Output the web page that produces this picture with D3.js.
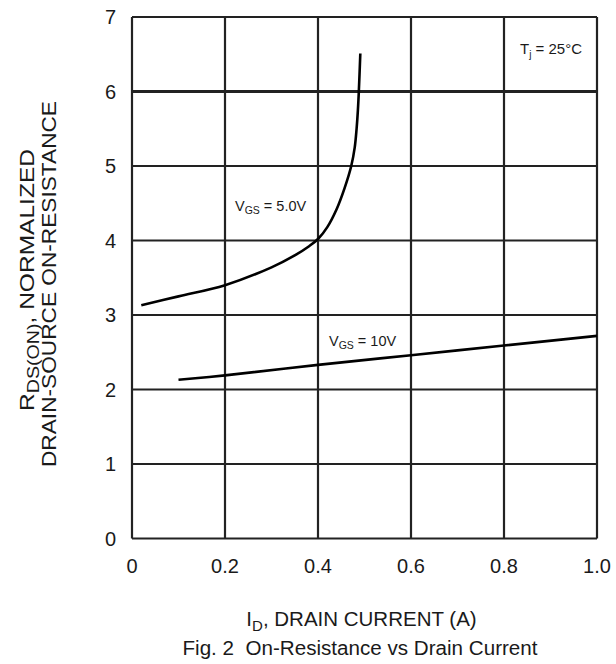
<!DOCTYPE html>
<html>
<head>
<meta charset="utf-8">
<script src="https://cdn.jsdelivr.net/npm/d3@7"></script>
<style>
  body { margin: 0; background: #fff; }
  text { font-family: "Liberation Sans", Arial, sans-serif; fill: #1a1a1a; white-space: pre; }
</style>
</head>
<body>
<script>
// data
const xTicks = [0, 0.2, 0.4, 0.6, 0.8, 1.0];
const xTickLabels = ["0", "0.2", "0.4", "0.6", "0.8", "1.0"];
const yTicks = [0, 1, 2, 3, 4, 5, 6, 7];

const vgs5Id = [0.02, 0.1, 0.2, 0.3, 0.35, 0.38, 0.4, 0.42, 0.44, 0.457, 0.4715, 0.479, 0.483, 0.4858, 0.4878, 0.491];
const vgs5R  = [3.13, 3.25, 3.40, 3.64, 3.80, 3.92, 4.02, 4.18, 4.42, 4.70, 5.00, 5.25, 5.50, 5.75, 6.00, 6.51];

const vgs10Id = [0.1, 0.2, 0.4, 0.6, 0.8, 1.0];
const vgs10R  = [2.13, 2.19, 2.33, 2.46, 2.59, 2.72];

const W = 616, H = 664;
const plotL = 132, plotR = 597, plotT = 17, plotB = 538.5;

const svg = d3.select("body").append("svg")
    .attr("width", W)
    .attr("height", H);

const x = d3.scaleLinear().domain([0, 1]).range([plotL, plotR]);
const y = d3.scaleLinear().domain([0, 7]).range([plotB, plotT]);

// grid
const grid = svg.append("g");
grid.selectAll(".vl")
    .data(xTicks)
    .enter()
    .append("line")
    .attr("x1", d => x(d)).attr("x2", d => x(d))
    .attr("y1", y(0)).attr("y2", y(7))
    .attr("stroke", "#222")
    .attr("stroke-width", 2.2);

grid.selectAll(".hl")
    .data(yTicks)
    .enter()
    .append("line")
    .attr("x1", x(0)).attr("x2", x(1))
    .attr("y1", d => y(d)).attr("y2", d => y(d))
    .attr("stroke", "#222")
    .attr("stroke-width", d => d == 6 ? 2.8 : 2.2);

// tick labels
svg.selectAll(".yt")
    .data(yTicks)
    .enter()
    .append("text")
    .attr("x", plotL - 16)
    .attr("y", d => y(d))
    .attr("dy", "0.36em")
    .attr("text-anchor", "end")
    .attr("font-size", "20px")
    .text(d => d);

svg.selectAll(".xt")
    .data(xTicks)
    .enter()
    .append("text")
    .attr("x", d => x(d))
    .attr("y", 573)
    .attr("text-anchor", "middle")
    .attr("font-size", "20px")
    .text((d, i) => xTickLabels[i]);

// curves
const line = d3.line()
    .x(d => x(d[0]))
    .y(d => y(d[1]))
    .curve(d3.curveCatmullRom.alpha(0.5));

svg.append("path")
    .datum(vgs5Id.map((d, i) => [d, vgs5R[i]]))
    .attr("d", line)
    .attr("fill", "none")
    .attr("stroke", "#000")
    .attr("stroke-width", 2.6);

svg.append("path")
    .datum(vgs10Id.map((d, i) => [d, vgs10R[i]]))
    .attr("d", line)
    .attr("fill", "none")
    .attr("stroke", "#000")
    .attr("stroke-width", 2.6);

// curve labels
function vgsLabel(px, py, val) {
  let t = svg.append("text")
    .attr("x", px).attr("y", py)
    .attr("font-size", "14.5px");
  t.append("tspan").text("V");
  t.append("tspan").attr("font-size", "10.5px").attr("dy", 3).text("GS");
  t.append("tspan").attr("dy", -3).text(" = " + val);
}
vgsLabel(235, 211, "5.0V");
vgsLabel(329, 346, "10V");

let tj = svg.append("text")
    .attr("x", 520).attr("y", 54)
    .attr("font-size", "15px");
tj.append("tspan").text("T");
tj.append("tspan").attr("font-size", "10px").attr("dy", 4).text("j");
tj.append("tspan").attr("dy", -4).text(" = 25°C");

// axis titles
let xl = svg.append("text")
    .attr("x", (plotL + plotR) / 2 - 3)
    .attr("y", 626)
    .attr("text-anchor", "middle")
    .attr("font-size", "20.5px");
xl.append("tspan").text("I");
xl.append("tspan").attr("font-size", "15px").attr("dy", 5).text("D");
xl.append("tspan").attr("dy", -5).text(", DRAIN CURRENT (A)");

svg.append("text")
    .attr("x", 360)
    .attr("y", 655)
    .attr("text-anchor", "middle")
    .attr("font-size", "20px")
    .attr("textLength", 355)
    .attr("lengthAdjust", "spacingAndGlyphs")
    .text("Fig. 2  On-Resistance vs Drain Current");

let yl1 = svg.append("text")
    .attr("transform", "translate(34, 280) rotate(-90)")
    .attr("text-anchor", "middle")
    .attr("font-size", "20px")
    .attr("textLength", 262)
    .attr("lengthAdjust", "spacingAndGlyphs");
yl1.append("tspan").text("R");
yl1.append("tspan").attr("font-size", "16px").attr("dy", 5).text("DS(ON)");
yl1.append("tspan").attr("dy", -5).text(", NORMALIZED");

svg.append("text")
    .attr("transform", "translate(56, 284) rotate(-90)")
    .attr("text-anchor", "middle")
    .attr("font-size", "20px")
    .attr("textLength", 366)
    .attr("lengthAdjust", "spacingAndGlyphs")
    .text("DRAIN-SOURCE ON-RESISTANCE");
</script>
</body>
</html>
